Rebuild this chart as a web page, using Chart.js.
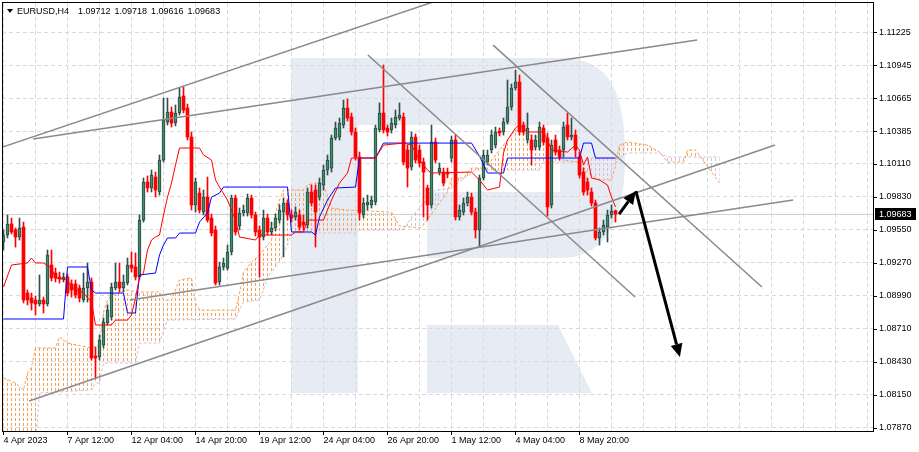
<!doctype html>
<html lang="en">
  <head>
    <meta charset="utf-8" />
    <title>EURUSD,H4</title>
    <style>
      html,
      body {
        margin: 0;
        padding: 0;
        background: #ffffff;
      }
      #chart {
        display: block;
      }
    </style>
  </head>
  <body>
    <canvas id="chart" width="919" height="452"></canvas>

    <script src="https://cdn.jsdelivr.net/npm/chart.js@4.4.0/dist/chart.umd.min.js"></script>
    <script>
      // ---- data (one entry per bar, 4 Apr 20:00 .. 10 May 08:00) ----
      const symbolTitle = "EURUSD,H4";

      const openP = [
        1.09447, 1.09506, 1.096, 1.09549, 1.09489, 1.09574, 1.09014, 1.08972, 1.08955, 1.08921,
        1.08955, 1.08921, 1.09252, 1.09184, 1.0915, 1.09133, 1.0915, 1.09091, 1.09091, 1.09057,
        1.08955, 1.09057, 1.09108, 1.0848, 1.08472, 1.08573, 1.0876, 1.08811, 1.09057, 1.09108,
        1.09057, 1.09099, 1.09252, 1.09235, 1.0915, 1.09633, 1.09956, 1.09905, 1.09998, 1.09871,
        1.10142, 1.10464, 1.10549, 1.10456, 1.10541, 1.10685, 1.10583, 1.10337, 1.09761, 1.09862,
        1.09701, 1.09828, 1.0965, 1.09549, 1.09108, 1.09235, 1.09226, 1.09362, 1.0982, 1.09583,
        1.09693, 1.09693, 1.0982, 1.09676, 1.09549, 1.09489, 1.0965, 1.09532, 1.09566, 1.09633,
        1.09701, 1.09778, 1.09676, 1.09659, 1.09676, 1.09616, 1.09591, 1.09871, 1.09888, 1.09828,
        1.0993, 1.10057, 1.10074, 1.10329, 1.10337, 1.10439, 1.10583, 1.10507, 1.1038, 1.10168,
        1.09676, 1.09761, 1.09761, 1.09786, 1.10397, 1.10541, 1.10414, 1.10397, 1.10439, 1.10498,
        1.10507, 1.10227, 1.10083, 1.10337, 1.10227, 1.10125, 1.09905, 1.09761, 1.10295, 1.1004,
        1.1004, 1.1004, 1.10159, 1.10312, 1.09659, 1.09701, 1.09778, 1.09828, 1.09701, 1.09549,
        1.0999, 1.10125, 1.10227, 1.10269, 1.10388, 1.1038, 1.10464, 1.10592, 1.10753, 1.10804,
        1.10439, 1.10312, 1.10312, 1.10252, 1.10252, 1.10414, 1.10329, 1.09761, 1.10312, 1.10227,
        1.10227, 1.10439, 1.10337, 1.10354, 1.10168, 1.1004, 1.09956, 1.09871, 1.09778, 1.09481,
        1.09532, 1.09574, 1.09676, 1.09712,
      ];
      const highP = [
        1.09549, 1.09676, 1.0965, 1.09566, 1.0965, 1.09616, 1.0904, 1.09014, 1.08989, 1.09167,
        1.0898, 1.09379, 1.09379, 1.09226, 1.09192, 1.09184, 1.09176, 1.09125, 1.09125, 1.09082,
        1.09184, 1.09269, 1.09142, 1.08556, 1.08658, 1.08802, 1.08913, 1.09099, 1.09269, 1.09269,
        1.09167, 1.09311, 1.09362, 1.09354, 1.09676, 1.0999, 1.10007, 1.10057, 1.1004, 1.10185,
        1.10668, 1.10668, 1.10592, 1.10609, 1.10753, 1.10761, 1.10617, 1.1038, 1.0999, 1.09905,
        1.09888, 1.09998, 1.09684, 1.09583, 1.09277, 1.09311, 1.09421, 1.09845, 1.09845, 1.09735,
        1.09761, 1.09854, 1.09845, 1.09701, 1.09583, 1.09718, 1.09684, 1.09616, 1.09684, 1.09761,
        1.0982, 1.09803, 1.09718, 1.09744, 1.09718, 1.09676, 1.09905, 1.0993, 1.0993, 1.0999,
        1.101, 1.10185, 1.10354, 1.10464, 1.10498, 1.10651, 1.1066, 1.10541, 1.10414, 1.1021,
        1.0982, 1.09845, 1.09837, 1.10439, 1.10626, 1.10948, 1.10439, 1.10498, 1.10566, 1.10626,
        1.10541, 1.10269, 1.1038, 1.10363, 1.10269, 1.10159, 1.0993, 1.10439, 1.10329, 1.10117,
        1.10074, 1.10074, 1.10346, 1.10354, 1.09761, 1.0982, 1.09871, 1.09862, 1.09735, 1.10015,
        1.10227, 1.10227, 1.10397, 1.10422, 1.10414, 1.10498, 1.10821, 1.10787, 1.10905, 1.10863,
        1.10464, 1.10541, 1.10354, 1.10354, 1.10464, 1.10439, 1.10371, 1.10312, 1.10354, 1.10261,
        1.10464, 1.10541, 1.10498, 1.10397, 1.1021, 1.10074, 1.0999, 1.09905, 1.09803, 1.09566,
        1.09633, 1.09718, 1.09761, 1.09718,
      ];
      const lowP = [
        1.09379, 1.09481, 1.09515, 1.09404, 1.09464, 1.0893, 1.08913, 1.0887, 1.08828, 1.08904,
        1.08845, 1.08904, 1.09116, 1.09108, 1.09099, 1.09108, 1.08989, 1.0898, 1.08972, 1.08938,
        1.08938, 1.08938, 1.08446, 1.08294, 1.08446, 1.08548, 1.08743, 1.08785, 1.0904, 1.09023,
        1.09023, 1.09082, 1.09192, 1.09125, 1.09133, 1.09616, 1.09871, 1.09871, 1.09828, 1.09845,
        1.10125, 1.10439, 1.10422, 1.10431, 1.10524, 1.10541, 1.10312, 1.09718, 1.09701, 1.09693,
        1.09676, 1.09616, 1.09498, 1.09082, 1.09082, 1.09209, 1.09209, 1.09337, 1.09506, 1.09549,
        1.09667, 1.09667, 1.0965, 1.09498, 1.0915, 1.09464, 1.09506, 1.09506, 1.0954, 1.09608,
        1.0932, 1.09633, 1.09616, 1.09633, 1.09549, 1.09549, 1.09566, 1.09752, 1.09404, 1.09803,
        1.09888, 1.10015, 1.1004, 1.10312, 1.10312, 1.10414, 1.10473, 1.10354, 1.10142, 1.09633,
        1.0965, 1.09718, 1.09735, 1.09761, 1.1038, 1.10371, 1.10346, 1.10371, 1.10414, 1.10481,
        1.101, 1.09913, 1.10057, 1.10117, 1.10083, 1.09659, 1.09633, 1.09735, 1.10117, 1.10015,
        1.09922, 1.0999, 1.10125, 1.09633, 1.09633, 1.09676, 1.09752, 1.09676, 1.09481, 1.09404,
        1.09973, 1.101, 1.10202, 1.10244, 1.10346, 1.10354, 1.10448, 1.10566, 1.10736, 1.10354,
        1.10354, 1.10286, 1.101, 1.10227, 1.10227, 1.10269, 1.09667, 1.09735, 1.10185, 1.10142,
        1.10168, 1.10312, 1.10312, 1.10168, 1.0999, 1.09845, 1.09845, 1.09752, 1.09464, 1.09421,
        1.09506, 1.09447, 1.0965, 1.09616,
      ];
      const closeP = [
        1.09506, 1.096, 1.09532, 1.09489, 1.09566, 1.08955, 1.08955, 1.0893, 1.08921, 1.08955,
        1.08921, 1.09337, 1.09142, 1.09142, 1.09133, 1.0915, 1.09014, 1.0904, 1.08997, 1.08972,
        1.09057, 1.09108, 1.08463, 1.08463, 1.08616, 1.08768, 1.0887, 1.09065, 1.09108, 1.09057,
        1.09108, 1.09252, 1.09226, 1.0915, 1.09633, 1.09956, 1.09905, 1.10015, 1.09888, 1.10142,
        1.10481, 1.10549, 1.10456, 1.10541, 1.10676, 1.10566, 1.10337, 1.09761, 1.09956, 1.09718,
        1.09828, 1.09633, 1.09523, 1.09099, 1.09235, 1.09269, 1.09362, 1.0982, 1.09532, 1.09693,
        1.09718, 1.0982, 1.09676, 1.09532, 1.09489, 1.0965, 1.09532, 1.09566, 1.0965, 1.09718,
        1.09778, 1.09676, 1.0965, 1.09701, 1.09574, 1.09591, 1.09871, 1.09778, 1.09701, 1.09947,
        1.10057, 1.10142, 1.10329, 1.10414, 1.10456, 1.10583, 1.10498, 1.1038, 1.10168, 1.09693,
        1.09778, 1.09786, 1.09803, 1.10414, 1.10541, 1.10397, 1.1038, 1.10456, 1.10507, 1.10524,
        1.10125, 1.10074, 1.10337, 1.10142, 1.10117, 1.1004, 1.09761, 1.10295, 1.10142, 1.10074,
        1.09947, 1.10023, 1.10312, 1.09659, 1.09718, 1.09778, 1.09828, 1.09701, 1.09549, 1.0999,
        1.10185, 1.10185, 1.10354, 1.1038, 1.10371, 1.10464, 1.10592, 1.10753, 1.10804, 1.1038,
        1.1038, 1.10414, 1.10227, 1.10312, 1.10422, 1.10295, 1.09744, 1.10269, 1.1021, 1.10168,
        1.10422, 1.10337, 1.10354, 1.10227, 1.10015, 1.09871, 1.09888, 1.09778, 1.09481, 1.09532,
        1.09591, 1.09676, 1.0971, 1.09683,
      ];

      // date labels, one every 16 bars starting at bar 0
      const xLabels = [
        "4 Apr 2023", "7 Apr 12:00", "12 Apr 04:00", "14 Apr 20:00", "19 Apr 12:00",
        "24 Apr 04:00", "26 Apr 20:00", "1 May 12:00", "4 May 04:00", "8 May 20:00",
      ];
      const yTicks = [
        1.11225, 1.10945, 1.10665, 1.10385, 1.1011, 1.0983, 1.0955, 1.0927, 1.0899, 1.0871,
        1.0843, 1.0815, 1.0787,
      ];

      // Ichimoku lines, as (bar, price) nodes
      const tenkanIdx = [
        0, 2, 6, 7, 8, 10, 12, 13, 16, 17, 20, 22, 23, 27, 28, 31, 32, 33, 34, 35, 36, 37, 38, 39,
        40, 41, 42, 43, 44, 49, 50, 52, 53, 54, 56, 58, 59, 63, 64, 72, 73, 75, 76, 80, 82, 84, 86,
        87, 93, 95, 100, 102, 104, 106, 107, 117, 119, 121, 124, 125, 126, 128, 129, 131, 135, 136,
        137, 141, 143, 144, 145, 146, 147, 149, 151, 152, 153,
      ];
      const tenkanVal = [
        1.09065, 1.09252, 1.09269, 1.09311, 1.09269, 1.09269, 1.09226, 1.09142, 1.09125, 1.09065,
        1.09014, 1.08938, 1.08743, 1.08743, 1.08785, 1.08785, 1.08828, 1.08972, 1.0915, 1.09184,
        1.09379, 1.09464, 1.09489, 1.09506, 1.09676, 1.09828, 1.09947, 1.101, 1.10244, 1.10244,
        1.10185, 1.10142, 1.09973, 1.09913, 1.09803, 1.09633, 1.09489, 1.09464, 1.09506, 1.09506,
        1.09532, 1.09532, 1.09633, 1.09633, 1.09803, 1.09947, 1.10032, 1.10159, 1.10159, 1.10269,
        1.10286, 1.10269, 1.10142, 1.10057, 1.10032, 1.1004, 1.09973, 1.09888, 1.09913, 1.10202,
        1.10312, 1.10414, 1.10439, 1.1038, 1.1038, 1.10312, 1.10227, 1.1021, 1.10269, 1.10227,
        1.101, 1.10168, 1.0999, 1.09973, 1.0993, 1.09828, 1.09744,
      ];
      const kijunIdx = [
        0, 15, 16, 21, 22, 23, 30, 31, 33, 34, 38, 39, 40, 41, 43, 44, 48, 49, 51, 52, 54, 55, 71,
        72, 77, 78, 79, 81, 83, 88, 89, 93, 95, 117, 119, 121, 125, 126, 144, 145, 147, 148, 153,
      ];
      const kijunVal = [
        1.08794, 1.08794, 1.09235, 1.09235, 1.0904, 1.09014, 1.09014, 1.08845, 1.08845, 1.09167,
        1.09184, 1.09337, 1.09421, 1.09481, 1.09481, 1.09523, 1.09523, 1.09616, 1.09693, 1.09828,
        1.09862, 1.09913, 1.09913, 1.09532, 1.09532, 1.09506, 1.09659, 1.09803, 1.09905, 1.09913,
        1.10159, 1.10159, 1.10286, 1.10286, 1.10176, 1.10032, 1.10032, 1.10159, 1.10159, 1.10286,
        1.10286, 1.10159, 1.10159,
      ];
      const spanAIdx = [
        0, 3, 5, 6, 7, 8, 13, 14, 15, 16, 22, 24, 25, 26, 27, 31, 33, 39, 40, 42, 43, 44, 47, 48,
        49, 58, 59, 60, 62, 64, 66, 67, 68, 69, 70, 75, 76, 79, 80, 82, 86, 97, 99, 104, 105, 111,
        112, 115, 117, 121, 122, 124, 126, 128, 134, 138, 140, 144, 146, 149, 152, 153, 154, 156,
        161, 164, 166, 170, 171, 173, 179,
      ];
      const spanAVal = [
        1.08294, 1.08251, 1.08192, 1.08336, 1.08387, 1.08548, 1.08548, 1.08641, 1.08616, 1.0859,
        1.08548, 1.08573, 1.08853, 1.08955, 1.08997, 1.0904, 1.09023, 1.09023, 1.08955, 1.08955,
        1.0904, 1.09125, 1.09142, 1.0893, 1.0887, 1.0887, 1.09014, 1.09192, 1.09277, 1.09337,
        1.09421, 1.09464, 1.09693, 1.09803, 1.09888, 1.09888, 1.0993, 1.09956, 1.0993, 1.09735,
        1.09718, 1.09701, 1.09583, 1.09566, 1.09591, 1.09871, 1.0999, 1.0999, 1.10074, 1.10074,
        1.10142, 1.10227, 1.10312, 1.10397, 1.10329, 1.10227, 1.10142, 1.10125, 1.10032, 1.09973,
        1.09973, 1.101, 1.10269, 1.10295, 1.10269, 1.1021, 1.10125, 1.10125, 1.10227, 1.10227,
        1.09947,
      ];
      const spanBIdx = [
        0, 8, 9, 22, 23, 24, 25, 33, 34, 39, 40, 41, 58, 59, 60, 64, 65, 66, 69, 71, 72, 88, 89,
        100, 102, 108, 112, 118, 134, 135, 145, 147, 154, 156, 164, 166, 179,
      ];
      const spanBVal = [
        1.07725, 1.07725, 1.08166, 1.08192, 1.08251, 1.08251, 1.08421, 1.08421, 1.0859, 1.0859,
        1.08701, 1.08785, 1.08794, 1.0887, 1.08938, 1.08955, 1.0904, 1.0915, 1.09277, 1.09421,
        1.09523, 1.09523, 1.09549, 1.09549, 1.09659, 1.09888, 1.09905, 1.10057, 1.10057, 1.10125,
        1.10125, 1.10159, 1.10159, 1.10202, 1.10202, 1.10168, 1.10168,
      ];

      // hand drawn trend lines: [barStart, priceStart, barEnd, priceEnd]
      const trendLines = [
        [-1, 1.10243, 110.4, 1.11517],
        [7.4, 1.1032, 173.4, 1.1116],
        [6.4, 1.08098, 192.9, 1.10269],
        [31.6, 1.08955, 197.4, 1.09803],
        [91.1, 1.11033, 157.9, 1.0898],
        [122.4, 1.11117, 189.6, 1.09065],
      ];
      const arrowUp = [153.9, 1.09684, 158.1, 1.09879];
      const arrowDown = [158.1, 1.09879, 169.1, 1.08472];

      // ---- styling ----
      const BULL_FILL = "#3f8f6d";
      const BULL_EDGE = "#28483f";
      const BULL_WICK = "#2f4f4f";
      const BEAR = "#ff0000";
      const GRID = "#dadada";
      const SPAN_A = "#f4a460";
      const SPAN_B = "#d8bfd8";
      const FONT = "'Liberation Sans', Arial, sans-serif";

      Chart.defaults.font.family = FONT;
      Chart.defaults.font.size = 9;
      Chart.defaults.color = "#000000";

      const canvas = document.getElementById("chart");

      const bars = closeP.map((_, i) => i);
      const isUp = bars.map((i) => closeP[i] >= openP[i]);
      const nodes = (xs, ys) => xs.map((x, k) => ({ x: x, y: ys[k] }));

      const datasets = [
        {
          type: "line",
          label: "Senkou Span A",
          data: nodes(spanAIdx, spanAVal),
          borderColor: SPAN_A,
          borderWidth: 1,
          borderDash: [3, 2],
          pointRadius: 0,
          fill: false,
          order: 6,
        },
        {
          type: "line",
          label: "Senkou Span B",
          data: nodes(spanBIdx, spanBVal),
          borderColor: SPAN_B,
          borderWidth: 1,
          borderDash: [3, 2],
          pointRadius: 0,
          fill: false,
          order: 7,
        },
        {
          type: "bar",
          label: "wick",
          data: bars.map((i) => ({ x: i, y: [lowP[i], highP[i]] })),
          backgroundColor: bars.map((i) => (isUp[i] ? BULL_WICK : BEAR)),
          barThickness: 1,
          grouped: false,
          order: 5,
        },
        {
          type: "bar",
          label: "body",
          data: bars.map((i) => ({ x: i, y: [openP[i], closeP[i]] })),
          backgroundColor: bars.map((i) => (isUp[i] ? BULL_FILL : BEAR)),
          borderColor: bars.map((i) => (isUp[i] ? BULL_EDGE : BEAR)),
          borderWidth: bars.map((i) => (isUp[i] ? 1 : 0)),
          borderSkipped: false,
          barThickness: 3,
          minBarLength: 1,
          grouped: false,
          order: 4,
        },
        {
          type: "line",
          label: "Kijun-sen",
          data: nodes(kijunIdx, kijunVal),
          borderColor: "#0000ff",
          borderWidth: 1,
          pointRadius: 0,
          fill: false,
          order: 2,
        },
        {
          type: "line",
          label: "Tenkan-sen",
          data: nodes(tenkanIdx, tenkanVal),
          borderColor: "#ff0000",
          borderWidth: 1,
          pointRadius: 0,
          fill: false,
          order: 1,
        },
      ];

      trendLines.forEach((t, k) => {
        datasets.push({
          type: "line",
          label: "trend " + k,
          data: [
            { x: t[0], y: t[1] },
            { x: t[2], y: t[3] },
          ],
          borderColor: "#8a8a8a",
          borderWidth: 1.5,
          pointRadius: 0,
          fill: false,
          order: 0,
        });
      });

      function drawArrow(ctx, x1, y1, x2, y2, head, half) {
        const a = Math.atan2(y2 - y1, x2 - x1);
        const bx = x2 - head * Math.cos(a);
        const by = y2 - head * Math.sin(a);
        ctx.beginPath();
        ctx.moveTo(x1, y1);
        ctx.lineTo(bx, by);
        ctx.stroke();
        ctx.beginPath();
        ctx.moveTo(x2, y2);
        ctx.lineTo(bx + half * Math.sin(a), by - half * Math.cos(a));
        ctx.lineTo(bx - half * Math.sin(a), by + half * Math.cos(a));
        ctx.closePath();
        ctx.fill();
      }

      // hatched Kumo: orange where span A is above span B, thistle where it is below.
      // one dotted vertical stroke per bar, clipped to the area between the spans
      function drawCloud(chart) {
        const { ctx, chartArea, scales } = chart;
        const a = spanAIdx.map((x, k) => [scales.x.getPixelForValue(x), scales.y.getPixelForValue(spanAVal[k])]);
        const b = spanBIdx.map((x, k) => [scales.x.getPixelForValue(x), scales.y.getPixelForValue(spanBVal[k])]);
        const w = chartArea.right - chartArea.left;
        const h = chartArea.bottom - chartArea.top;
        const lastBar = spanAIdx[spanAIdx.length - 1];
        [
          [chartArea.top, SPAN_A],
          [chartArea.bottom, SPAN_B],
        ].forEach(([edge, color]) => {
          ctx.save();
          ctx.beginPath();
          ctx.rect(chartArea.left, chartArea.top, w, h);
          ctx.clip();
          ctx.beginPath();
          a.forEach((p, k) => (k ? ctx.lineTo(p[0], p[1]) : ctx.moveTo(p[0], p[1])));
          for (let k = b.length - 1; k >= 0; k--) ctx.lineTo(b[k][0], b[k][1]);
          ctx.closePath();
          ctx.clip("evenodd");
          ctx.beginPath();
          ctx.moveTo(b[0][0] - 2, edge);
          ctx.lineTo(b[0][0] - 2, b[0][1]);
          b.forEach((p) => ctx.lineTo(p[0], p[1]));
          ctx.lineTo(b[b.length - 1][0] + 2, b[b.length - 1][1]);
          ctx.lineTo(b[b.length - 1][0] + 2, edge);
          ctx.closePath();
          ctx.clip();
          ctx.strokeStyle = color;
          ctx.lineWidth = 1;
          ctx.setLineDash([3, 2]);
          ctx.beginPath();
          for (let i = 0; i <= lastBar; i++) {
            const px = Math.round(scales.x.getPixelForValue(i)) - 0.5;
            ctx.moveTo(px, chartArea.top);
            ctx.lineTo(px, chartArea.bottom);
          }
          ctx.stroke();
          ctx.restore();
        });
      }

      // background logo, frame, title, price tag and arrows
      const mt4Decor = {
        id: "mt4Decor",
        beforeDraw(chart) {
          const ctx = chart.ctx;
          ctx.save();
          ctx.fillStyle = "#ffffff";
          ctx.fillRect(0, 0, chart.width, chart.height);
          ctx.fillStyle = "#e7ebf3";
          ctx.fillRect(291, 58, 67, 335);
          ctx.fillRect(358, 58, 202, 67);
          ctx.fillRect(427, 192, 133, 66);
          ctx.beginPath();
          ctx.moveTo(560, 58);
          ctx.bezierCurveTo(612, 58, 625, 95, 625, 158);
          ctx.bezierCurveTo(625, 215, 608, 258, 560, 258);
          ctx.closePath();
          ctx.fill();
          ctx.beginPath();
          ctx.moveTo(427, 325);
          ctx.lineTo(558, 325);
          ctx.lineTo(592, 393);
          ctx.lineTo(427, 393);
          ctx.closePath();
          ctx.fill();
          ctx.restore();
        },
        beforeDatasetsDraw(chart) {
          const { ctx, chartArea, scales } = chart;
          drawCloud(chart);
          const y = Math.round(scales.y.getPixelForValue(closeP[closeP.length - 1])) + 0.5;
          ctx.save();
          ctx.strokeStyle = "#cfcfcf";
          ctx.lineWidth = 1;
          ctx.beginPath();
          ctx.moveTo(chartArea.left, y);
          ctx.lineTo(chartArea.right, y);
          ctx.stroke();
          ctx.restore();
        },
        afterDraw(chart) {
          const { ctx, chartArea, scales } = chart;
          const xs = scales.x;
          const ys = scales.y;
          ctx.save();

          // arrows
          ctx.strokeStyle = "#000000";
          ctx.fillStyle = "#000000";
          ctx.lineWidth = 3;
          ctx.lineCap = "butt";
          [arrowUp, arrowDown].forEach((a) => {
            drawArrow(
              ctx,
              xs.getPixelForValue(a[0]),
              ys.getPixelForValue(a[1]),
              xs.getPixelForValue(a[2]),
              ys.getPixelForValue(a[3]),
              13,
              6
            );
          });

          // frame and tick marks
          ctx.lineWidth = 1;
          ctx.strokeRect(2.5, 2.5, chartArea.right - 2, chartArea.bottom - 2);
          ctx.beginPath();
          yTicks.forEach((v) => {
            const py = Math.round(ys.getPixelForValue(v)) + 0.5;
            ctx.moveTo(chartArea.right, py);
            ctx.lineTo(chartArea.right + 4, py);
          });
          xLabels.forEach((_, k) => {
            const px = Math.round(xs.getPixelForValue(k * 16)) - 0.5;
            ctx.moveTo(px, chartArea.bottom);
            ctx.lineTo(px, chartArea.bottom + 4);
          });
          ctx.stroke();

          // title line
          const last = closeP.length - 1;
          ctx.beginPath();
          ctx.moveTo(7, 9);
          ctx.lineTo(13, 9);
          ctx.lineTo(10, 13);
          ctx.closePath();
          ctx.fill();
          ctx.font = "9px " + FONT;
          ctx.textBaseline = "alphabetic";
          ctx.textAlign = "left";
          ctx.fillText(symbolTitle, 17, 14);
          let tx = 78;
          [openP[last], highP[last], lowP[last], closeP[last]].forEach((v) => {
            const s = v.toFixed(5);
            ctx.fillText(s, tx, 14);
            tx += ctx.measureText(s).width + 4;
          });

          // last price tag
          const py = Math.round(ys.getPixelForValue(closeP[last]));
          ctx.fillStyle = "#000000";
          ctx.fillRect(chartArea.right + 2, py - 6, 41, 12);
          ctx.fillStyle = "#ffffff";
          ctx.textBaseline = "middle";
          ctx.fillText(closeP[last].toFixed(5), chartArea.right + 6, py + 0.5);
          ctx.restore();
        },
      };

      new Chart(canvas, {
        type: "bar",
        data: { datasets: datasets },
        options: {
          responsive: false,
          animation: false,
          events: [],
          layout: { padding: { left: 2, top: 3, right: 0, bottom: 0 } },
          plugins: {
            legend: { display: false },
            tooltip: { enabled: false },
          },
          scales: {
            x: {
              type: "linear",
              min: -0.375,
              max: 217.375,
              offset: false,
              afterBuildTicks: (s) => {
                s.ticks = [];
                for (let v = 0; v <= 216; v += 8) s.ticks.push({ value: v });
              },
              afterFit: (s) => {
                s.height = 21;
                s.paddingLeft = 0;
                s.paddingRight = 0;
              },
              grid: { color: GRID, lineWidth: 1, drawTicks: false, offset: false },
              border: { display: false, dash: [4, 3] },
              ticks: {
                autoSkip: false,
                maxRotation: 0,
                minRotation: 0,
                align: "start",
                padding: 4,
                color: "#000000",
                callback: (v) => (v % 16 === 0 && v / 16 < xLabels.length ? xLabels[v / 16] : ""),
              },
            },
            y: {
              position: "right",
              min: 1.07844,
              max: 1.11474,
              afterBuildTicks: (s) => {
                s.ticks = yTicks.map((v) => ({ value: v }));
              },
              afterFit: (s) => {
                s.width = 46;
                s.paddingTop = 0;
                s.paddingBottom = 0;
              },
              grid: { color: GRID, lineWidth: 1, drawTicks: false },
              border: { display: false, dash: [4, 3] },
              ticks: {
                padding: 6,
                color: "#000000",
                callback: (v) => Number(v).toFixed(5),
              },
            },
          },
        },
        plugins: [mt4Decor],
      });
    </script>
  </body>
</html>
